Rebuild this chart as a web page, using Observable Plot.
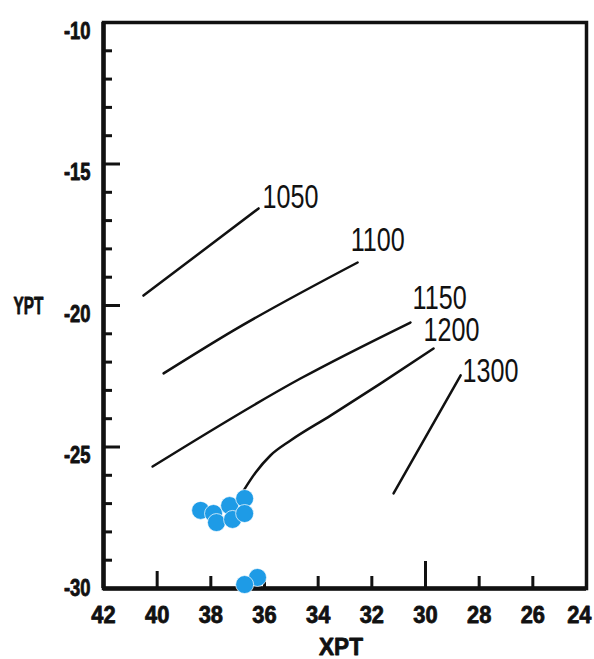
<!DOCTYPE html>
<html><head><meta charset="utf-8">
<script src="https://cdn.jsdelivr.net/npm/d3@7"></script>
<script src="https://cdn.jsdelivr.net/npm/@observablehq/plot@0.6"></script>
<style>body{margin:0;background:#fff}#chart svg{display:block}</style>
</head><body><div id="chart"></div>
<script>
// Axis ticks
const xTicks = [42, 40, 38, 36, 34, 32, 30, 28, 26, 24];
const xTicksShort = [38, 36, 34, 32, 28, 26];
const xTicksMid = [40];
const xTicksLong = [30];
const yTicks = [-10, -15, -20, -25, -30];
const yTicksMajor = [-15, -20, -25];
const yTicksMinor = [-11, -12, -13, -14, -16, -17, -18, -19, -21, -22, -23, -24, -26, -27, -28, -29];

// Contour lines (XPT, YPT)
const levels = ["1050", "1100", "1150", "1200", "1300"];
const line1050X = [40.51, 36.22];
const line1050Y = [-19.65, -16.57];
const line1100X = [39.76, 37.15, 32.53];
const line1100Y = [-22.40, -20.88, -18.48];
const line1150X = [40.17, 34.66, 30.56];
const line1150Y = [-25.69, -22.58, -20.60];
const line1200X = [36.78, 36.33, 35.78, 35.03, 33.54, 31.68, 29.70];
const line1200Y = [-26.54, -25.90, -25.30, -24.77, -23.89, -22.76, -21.52];
const line1300X = [31.19, 28.69];
const line1300Y = [-26.64, -22.47];

// Contour label anchors
const labelX = [36.07, 32.79, 30.48, 30.07, 28.62];
const labelY = [-16.57, -18.06, -20.11, -21.24, -22.72];

// Blue points
const dotX = [38.38, 37.90, 37.79, 37.30, 37.19, 36.74, 36.74, 36.26, 36.74];
const dotY = [-27.24, -27.35, -27.67, -27.07, -27.56, -26.82, -27.35, -29.61, -29.86];

const lineXs = [line1050X, line1100X, line1150X, line1200X, line1300X];
const lineYs = [line1050Y, line1100Y, line1150Y, line1200Y, line1300Y];
const lineRows = levels.flatMap((lv, k) => lineXs[k].map((x, i) => ({level: lv, x, y: lineYs[k][i]})));
const labelRows = levels.map((lv, k) => ({level: lv, x: labelX[k], y: labelY[k]}));
const dotRows = dotX.map((x, i) => ({x, y: dotY[i]}));

const ink = "#111";
const tickFont = {fontSize: 23, fontWeight: "bold", fill: ink, stroke: ink, strokeWidth: 0.8};
const chart = Plot.plot({
  width: 594, height: 659,
  marginLeft: 103, marginRight: 8, marginTop: 22, marginBottom: 71,
  x: {domain: [42, 24], axis: null},
  y: {domain: [-30, -10], axis: null},
  style: {fontFamily: "'Liberation Sans', Arial, Helvetica, sans-serif", background: "#fff", overflow: "visible"},
  marks: [
    Plot.frame({stroke: ink, strokeWidth: 3.5}),
    Plot.ruleX([42], {stroke: ink, strokeWidth: 4.5}),
    Plot.ruleY([-30], {stroke: ink, strokeWidth: 4.5}),
    Plot.ruleX(xTicksShort, {x: d => d, y1: -30, y2: -30, insetTop: -12, stroke: ink, strokeWidth: 3}),
    Plot.ruleX(xTicksMid, {x: d => d, y1: -30, y2: -30, insetTop: -17, stroke: ink, strokeWidth: 3}),
    Plot.ruleX(xTicksLong, {x: d => d, y1: -30, y2: -30, insetTop: -27, stroke: ink, strokeWidth: 3}),
    Plot.ruleY(yTicksMajor, {y: d => d, x1: 42, x2: 42, insetRight: -17, stroke: ink, strokeWidth: 3}),
    Plot.ruleY(yTicksMinor, {y: d => d, x1: 42, x2: 42, insetRight: -9, stroke: ink, strokeWidth: 3}),
    Plot.text(xTicks.filter(d => d !== 24), {x: d => d, text: d => String(d), frameAnchor: "bottom", dy: 34, lineAnchor: "bottom", ...tickFont}),
    Plot.text(xTicks.filter(d => d === 24), {x: d => d, text: d => String(d), frameAnchor: "bottom", dx: 5, dy: 34, textAnchor: "end", lineAnchor: "bottom", ...tickFont}),
    Plot.text(yTicks.filter(d => d !== -30), {y: d => d, text: d => "-" + Math.abs(d), frameAnchor: "left", dx: -13, dy: 9, textAnchor: "end", lineAnchor: "middle", ...tickFont}),
    Plot.text(yTicks.filter(d => d === -30), {y: d => d, text: d => "-" + Math.abs(d), frameAnchor: "left", dx: -13, dy: 0, textAnchor: "end", lineAnchor: "middle", ...tickFont}),
    Plot.text(["YPT"], {text: d => d, frameAnchor: "left", dx: -90, dy: 8, textAnchor: "start", lineAnchor: "bottom", fontSize: 24, fontWeight: "bold", fill: ink, stroke: ink, strokeWidth: 0.8}),
    Plot.text(["XPT"], {text: d => d, frameAnchor: "bottom", dx: -4, dy: 66, textAnchor: "middle", lineAnchor: "bottom", fontSize: 24, fontWeight: "bold", fill: ink, stroke: ink, strokeWidth: 0.8}),
    Plot.line(lineRows, {x: "x", y: "y", z: "level", curve: "monotone-x", stroke: ink, strokeWidth: 2.5}),
    Plot.text(labelRows, {x: "x", y: "y", text: "level", textAnchor: "start", lineAnchor: "bottom", fontSize: 34, fill: ink}),
    Plot.dot(dotRows, {x: "x", y: "y", r: 9, fill: "#1e9be6", stroke: "#fff", strokeWidth: 0.7})
  ]
});
document.getElementById("chart").appendChild(chart);

// Condensed look of the original lettering
d3.select(chart).selectAll("text").each(function () {
  const t = this.textContent.trim();
  let s = 1;
  if (levels.includes(t)) s = 0.74;
  else if (t === "YPT") s = 0.64;
  else if (t === "XPT") s = 0.94;
  else if (t.startsWith("-")) s = 0.8;
  else if (/^\d+$/.test(t)) s = 0.95;
  const tr = this.getAttribute("transform");
  if (tr && s !== 1) this.setAttribute("transform", tr + ` scale(${s},1)`);
});
</script>
</body></html>
